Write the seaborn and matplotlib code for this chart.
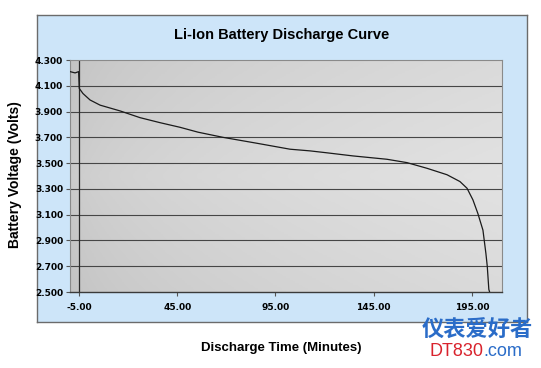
import numpy as np
import seaborn as sns
import matplotlib.pyplot as plt
from matplotlib.colors import LinearSegmentedColormap

# Data
time_min = [-9.6, -7.0, -5.2, -4.9, -3.0, 0.6, 5.7, 15.9, 26.0, 36.2, 46.4, 55.6,
            68.3, 85.6, 102.4, 112.6, 121.2, 134.4, 151.7, 161.9, 172.1, 182.3,
            188.9, 192.5, 195.5, 198.0, 200.6, 202.1, 202.8, 203.6, 204.0]
voltage = [4.21, 4.20, 4.21, 4.08, 4.04, 3.99, 3.95, 3.905, 3.853, 3.814, 3.778, 3.74,
           3.70, 3.654, 3.608, 3.595, 3.58, 3.556, 3.53, 3.504, 3.46, 3.41,
           3.357, 3.305, 3.215, 3.11, 2.98, 2.80, 2.70, 2.52, 2.50]
x_ticks = [-5, 45, 95, 145, 195]
y_ticks = [2.5, 2.7, 2.9, 3.1, 3.3, 3.5, 3.7, 3.9, 4.1, 4.3]

fig = plt.figure(figsize=(5.41, 3.68), dpi=100)
fig.patch.set_facecolor('white')

# light blue chart panel (background axes)
panel = fig.add_axes([0.0684, 0.125, 0.9057, 0.834], zorder=0)
panel.set_facecolor('#cde5f9')
panel.set_xticks([])
panel.set_yticks([])
for s in panel.spines.values():
    s.set_color('#6b6b6b')
    s.set_linewidth(1.0)

ax = fig.add_axes([0.1294, 0.2065, 0.7985, 0.6304], zorder=1)
xmin, xmax = -9.6, 210.3
ax.set_xlim(xmin, xmax)
ax.set_ylim(2.5, 4.3)

# gray gradient plot area
gx, gy = np.meshgrid(np.linspace(0, 1, 200), np.linspace(0, 1, 100))
grad = np.clip(0.75 * np.sqrt(gx) + 0.25 * (1 - np.abs(gy - 0.5) * 2), 0, 1)
ax.imshow(grad, extent=[xmin, xmax, 2.5, 4.3], origin='lower', aspect='auto',
          cmap=LinearSegmentedColormap.from_list('g', ['#c2c2c2', '#e2e2e2']),
          zorder=0)

for yv in y_ticks[1:-1]:
    ax.axhline(yv, color='#464646', linewidth=0.8, zorder=1)
ax.axvline(-5, color='#2a2a2a', linewidth=0.9, zorder=1)

sns.lineplot(x=time_min, y=voltage, estimator=None, color='#1a1a1a', linewidth=0.9,
             ax=ax, zorder=3)

ax.set_xticks(x_ticks)
ax.set_xticklabels([f'{v:.2f}' for v in x_ticks], fontsize=6.5, fontweight='bold',
                   family='DejaVu Sans')
ax.set_yticks(y_ticks)
ax.set_yticklabels([f'{v:.3f}' for v in y_ticks], fontsize=6.5, fontweight='bold',
                   family='DejaVu Sans')
ax.tick_params(axis='both', length=3, width=0.8, color='#555555', pad=2)
ax.tick_params(axis='x', pad=5)

for s in ['top', 'right', 'left']:
    ax.spines[s].set_color('#8a8a8a')
    ax.spines[s].set_linewidth(0.8)
ax.spines['bottom'].set_color('#3a3a3a')
ax.spines['bottom'].set_linewidth(1.0)

fig.text(0.52, 0.905, 'Li-Ion Battery Discharge Curve', ha='center', va='center',
         fontsize=10.5, fontweight='bold', family='Liberation Sans', zorder=5)
fig.text(0.028, 0.525, 'Battery Voltage (Volts)', ha='center', va='center', rotation=90,
         fontsize=10, fontweight='bold', family='Liberation Sans')
fig.text(0.52, 0.053, 'Discharge Time (Minutes)', ha='center', va='center',
         fontsize=9.5, fontweight='bold', family='Liberation Sans')

# watermark
fig.text(0.883, 0.103, '仪表爱好者', ha='center', va='center', fontsize=16,
         fontweight='bold', color='#2a6cc8', family=['Noto Sans CJK SC', 'DejaVu Sans'],
         zorder=5)
fig.text(0.893, 0.046, 'DT830', ha='right', va='center', fontsize=13,
         color='#d9232d', family='Liberation Sans', zorder=5)
fig.text(0.893, 0.046, '.com', ha='left', va='center', fontsize=13,
         color='#2a6cc8', family='Liberation Sans', zorder=5)

plt.savefig('out.png', dpi=100)
plt.close()
